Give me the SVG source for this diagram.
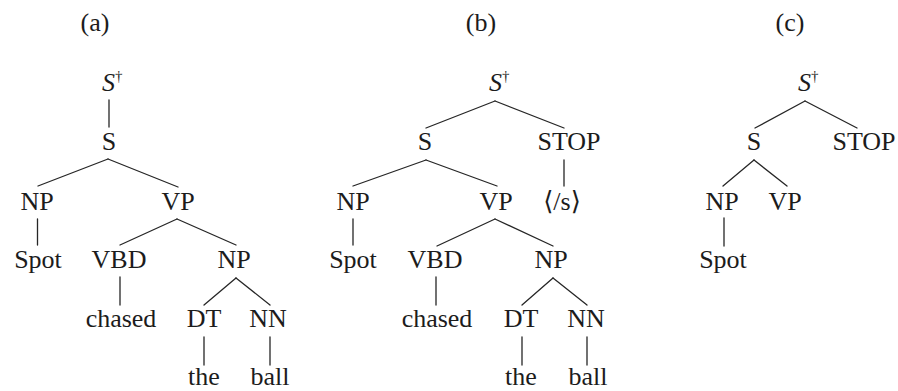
<svg xmlns="http://www.w3.org/2000/svg" width="898" height="391" viewBox="0 0 898 391">
<style>
text{font-family:"Liberation Serif","DejaVu Serif","DejaVu Sans",serif;font-size:26px;fill:#1c1c1c;text-anchor:middle}
text.st{text-anchor:start}
.i{font-style:italic}
.d{font-size:15px}
#connectors line{stroke:#262626;stroke-width:1.3;stroke-linecap:round}
</style>
<rect width="898" height="391" fill="#ffffff"/>
<g id="titles">
<text x="95" y="31">(a)</text>
<text x="481" y="31">(b)</text>
<text x="790" y="31">(c)</text>
</g>
<g id="connectors">
<!-- tree a -->
<line x1="109" y1="100" x2="109" y2="127"/>
<line x1="108" y1="159" x2="38" y2="186"/>
<line x1="108" y1="159" x2="178" y2="187"/>
<line x1="37.5" y1="219" x2="37.5" y2="245"/>
<line x1="177" y1="219" x2="120" y2="245"/>
<line x1="177" y1="219" x2="236" y2="245"/>
<line x1="120" y1="277" x2="120" y2="305"/>
<line x1="236" y1="278" x2="204" y2="305"/>
<line x1="236" y1="278" x2="270" y2="305"/>
<line x1="204" y1="337" x2="204" y2="365"/>
<line x1="270" y1="337" x2="270" y2="365"/>
<!-- tree b -->
<line x1="495" y1="101" x2="426" y2="128"/>
<line x1="495" y1="101" x2="564" y2="128"/>
<line x1="426" y1="160" x2="353" y2="186"/>
<line x1="426" y1="160" x2="497" y2="186"/>
<line x1="564" y1="160" x2="564" y2="186"/>
<line x1="353" y1="219" x2="353" y2="245"/>
<line x1="495" y1="219" x2="437" y2="246"/>
<line x1="495" y1="219" x2="553" y2="246"/>
<line x1="436" y1="277" x2="436" y2="305"/>
<line x1="553" y1="278" x2="522" y2="305"/>
<line x1="553" y1="278" x2="587" y2="305"/>
<line x1="522" y1="337" x2="522" y2="365"/>
<line x1="587" y1="337" x2="587" y2="365"/>
<!-- tree c -->
<line x1="805" y1="101" x2="755" y2="128"/>
<line x1="805" y1="101" x2="857" y2="128"/>
<line x1="754" y1="160" x2="723" y2="186"/>
<line x1="754" y1="160" x2="787" y2="186"/>
<line x1="724" y1="218" x2="724" y2="246"/>
</g>
<!-- tree a nodes -->
<g id="a-root"><text class="st" x="102" y="91"><tspan class="i">S</tspan><tspan class="d" dy="-10">†</tspan></text></g>
<g id="a-S"><text x="109" y="150">S</text></g>
<g id="a-NP"><text x="37" y="210">NP</text></g>
<g id="a-VP"><text x="178" y="210">VP</text></g>
<g id="a-Spot"><text x="38" y="268">Spot</text></g>
<g id="a-VBD"><text x="119" y="268">VBD</text></g>
<g id="a-NP2"><text x="234" y="268">NP</text></g>
<g id="a-chased"><text x="121" y="327">chased</text></g>
<g id="a-DT"><text x="204" y="327">DT</text></g>
<g id="a-NN"><text x="268" y="327">NN</text></g>
<g id="a-the"><text x="204" y="385">the</text></g>
<g id="a-ball"><text x="270" y="385">ball</text></g>
<!-- tree b nodes -->
<g id="b-root"><text class="st" x="489" y="91"><tspan class="i">S</tspan><tspan class="d" dy="-10">†</tspan></text></g>
<g id="b-S"><text x="425" y="150">S</text></g>
<g id="b-STOP"><text x="569" y="150">STOP</text></g>
<g id="b-NP"><text x="353" y="210">NP</text></g>
<g id="b-VP"><text x="496" y="210">VP</text></g>
<g id="b-eos"><text x="562" y="210">⟨/s⟩</text></g>
<g id="b-Spot"><text x="353" y="268">Spot</text></g>
<g id="b-VBD"><text x="435" y="268">VBD</text></g>
<g id="b-NP2"><text x="551" y="268">NP</text></g>
<g id="b-chased"><text x="437" y="327">chased</text></g>
<g id="b-DT"><text x="521" y="327">DT</text></g>
<g id="b-NN"><text x="586" y="327">NN</text></g>
<g id="b-the"><text x="521" y="385">the</text></g>
<g id="b-ball"><text x="588" y="385">ball</text></g>
<!-- tree c nodes -->
<g id="c-root"><text class="st" x="798" y="91"><tspan class="i">S</tspan><tspan class="d" dy="-10">†</tspan></text></g>
<g id="c-S"><text x="754" y="150">S</text></g>
<g id="c-STOP"><text x="864" y="150">STOP</text></g>
<g id="c-NP"><text x="722" y="210">NP</text></g>
<g id="c-VP"><text x="785" y="210">VP</text></g>
<g id="c-Spot"><text x="723" y="268">Spot</text></g>
</svg>
